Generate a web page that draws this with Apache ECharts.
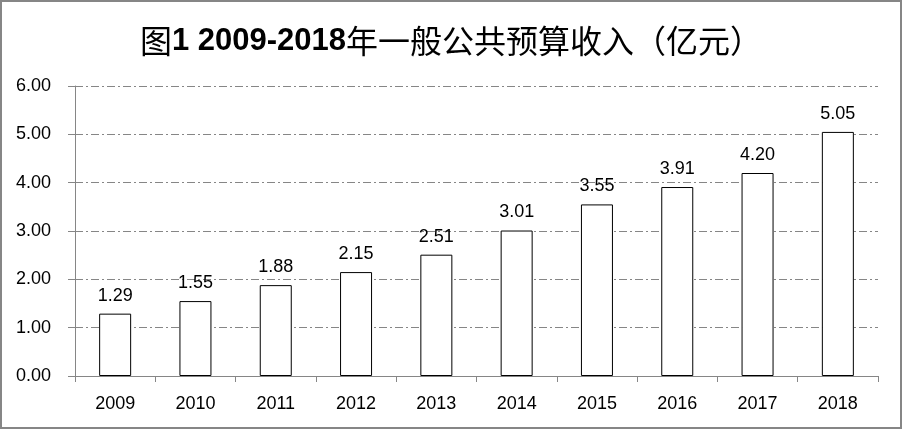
<!DOCTYPE html>
<html>
<head>
<meta charset="utf-8">
<script src="https://cdn.jsdelivr.net/npm/echarts@6/dist/echarts.min.js"></script>
<style>
html,body{margin:0;padding:0;background:#fff;}
#c{width:902px;height:430px;}
</style>
</head>
<body>
<div id="c"></div>
<script>
const years = ['2009','2010','2011','2012','2013','2014','2015','2016','2017','2018'];
const revenue = [1.29, 1.55, 1.88, 2.15, 2.51, 3.01, 3.55, 3.91, 4.20, 5.05];
const titleLatin = '1 2009-2018';
const titleCJKPre = '图';
const titleCJKPost = '年一般公共预算收入（亿元）';

const chart = echarts.init(document.getElementById('c'));
const axisGray = '#868686';
chart.setOption({
  animation: false,
  backgroundColor: '#fff',
  graphic: [{
    type: 'rect',
    shape: {x: 1, y: 1, width: 900, height: 427},
    style: {fill: 'none', stroke: axisGray, lineWidth: 2},
    silent: true
  }],
  title: {
    text: '{c|' + titleCJKPre + '}{l|' + titleLatin + '}{c|' + titleCJKPost + '}',
    left: 'center',
    top: 20,
    textStyle: {
      rich: {
        c: {fontFamily: '"Noto Sans CJK SC"', fontSize: 32, fontWeight: 'normal', color: '#000'},
        l: {fontFamily: '"Liberation Sans", Arial', fontSize: 31, fontWeight: 'bold', color: '#000'}
      }
    }
  },
  grid: {left: 75, right: 24, top: 86, bottom: 54, containLabel: false},
  xAxis: {
    type: 'category',
    data: years,
    axisLine: {lineStyle: {color: axisGray, width: 1}},
    axisTick: {show: true, length: 6, lineStyle: {color: axisGray}},
    axisLabel: {
      color: '#000', fontFamily: '"Liberation Sans", Arial', fontSize: 18, margin: 19
    }
  },
  yAxis: {
    type: 'value',
    min: 0, max: 6, interval: 1,
    axisLine: {show: true, lineStyle: {color: axisGray, width: 1}},
    axisTick: {show: true, inside: false, length: 7, lineStyle: {color: axisGray}},
    axisLabel: {
      color: '#000', fontFamily: '"Liberation Sans", Arial', fontSize: 18, margin: 24,
      formatter: v => v.toFixed(2)
    },
    splitLine: {
      show: true,
      lineStyle: {color: axisGray, width: 1, type: [8, 3, 2, 3]}
    }
  },
  series: [{
    type: 'bar',
    data: revenue,
    barWidth: 32,
    itemStyle: {color: '#fff', borderColor: '#000', borderWidth: 1},
    label: {
      show: true, position: 'top', distance: 9,
      color: '#000', fontFamily: '"Liberation Sans", Arial', fontSize: 18,
      formatter: p => p.value.toFixed(2)
    }
  }]
});
</script>
</body>
</html>
